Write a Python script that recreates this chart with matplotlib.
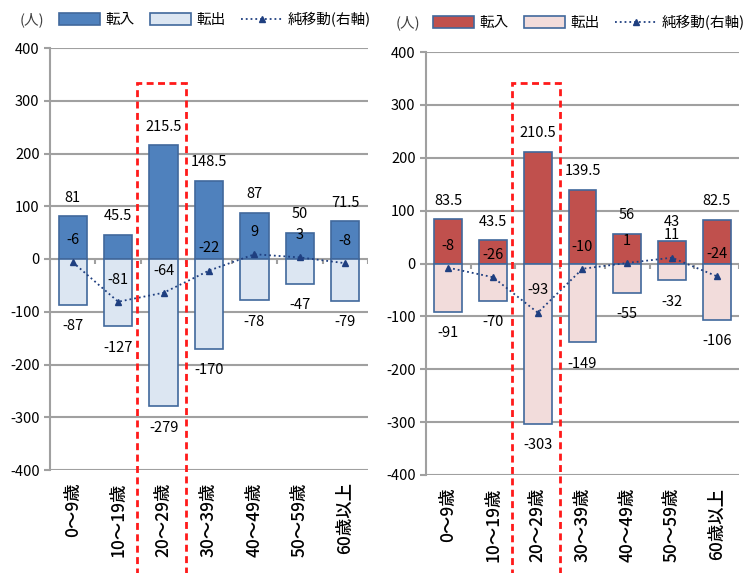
import matplotlib
matplotlib.use('Agg')
import matplotlib.pyplot as plt
from matplotlib.patches import Rectangle
import numpy as np

plt.rcParams['font.family'] = ['Noto Sans CJK JP', 'DejaVu Sans']
plt.rcParams['axes.unicode_minus'] = False

ages = ['0～9歳', '10～19歳', '20～29歳', '30～39歳', '40～49歳', '50～59歳', '60歳以上']

# left panel
in_left = [81, 45.5, 215.5, 148.5, 87, 50, 71.5]
out_left = [-87, -127, -279, -170, -78, -47, -79]
net_left = [-6, -81, -64, -22, 9, 3, -8]

# right panel
in_right = [83.5, 43.5, 210.5, 139.5, 56, 43, 82.5]
out_right = [-91, -70, -303, -149, -55, -32, -106]
net_right = [-8, -26, -93, -10, 1, 11, -24]

grey = '#a0a0a0'
edge = '#41689c'
line_col = '#1f3f80'


def fmt(v):
    return ('%g' % v)


def draw(ax, vin, vout, vnet, cin, cout, highlight_top):
    x = np.arange(len(ages))
    ax.set_xlim(-0.5, len(ages) - 0.5)
    ax.set_ylim(-400, 400)
    for yv in range(-400, 401, 100):
        ax.axhline(yv, color=grey, lw=1.5, zorder=1)
    ax.vlines(np.arange(0.5, len(ages)), -10, 0, color=grey, lw=1.5, zorder=1)

    ax.bar(x, vin, width=0.62, color=cin, edgecolor=edge, lw=1.2, zorder=2)
    ax.bar(x, vout, width=0.62, color=cout, edgecolor=edge, lw=1.2, zorder=2)

    for xi, v in zip(x, vin):
        ax.annotate(fmt(v), (xi, v), xytext=(0, 13.5), textcoords='offset points',
                    ha='center', va='center', fontsize=10.5, zorder=5)
    for xi, v in zip(x, vout):
        ax.annotate(fmt(v), (xi, v), xytext=(0, -15.5), textcoords='offset points',
                    ha='center', va='center', fontsize=10.5, zorder=5)

    ax.set_yticks(range(-400, 401, 100))
    ax.tick_params(axis='y', length=4, color=grey, width=1.5, labelsize=10.5)
    ax.set_xticks(x)
    ax.set_xticklabels(ages, rotation=90, fontsize=12.5, va='top', fontweight='medium')
    ax.tick_params(axis='x', length=0, pad=9)
    for s in ['top', 'right', 'bottom']:
        ax.spines[s].set_visible(False)
    ax.spines['left'].set_color(grey)
    ax.spines['left'].set_linewidth(1.5)

    # 右軸 (same scale, hidden)
    ax2 = ax.twinx()
    ax2.set_ylim(-400, 400)
    ax2.axis('off')
    ax2.plot(x, vnet, ls=':', lw=1.3, color=line_col, marker='^', ms=4.5, zorder=4)
    for xi, v in zip(x, vnet):
        ax2.annotate(fmt(v), (xi, v), xytext=(0, 16), textcoords='offset points',
                     ha='center', va='center', fontsize=10.5, zorder=5)

    rect = Rectangle((1.42, -700), 1.08, 700 + highlight_top, fill=False,
                     edgecolor='#ff1a1a', lw=2, linestyle=(0, (2.5, 1.6)),
                     clip_on=False, zorder=6)
    ax2.add_patch(rect)
    return ax2


fig = plt.figure(figsize=(7.54, 5.73), dpi=100)
ax_l = fig.add_axes([50 / 754, 1 - 470 / 573, 318 / 754, 422 / 573])
ax_r = fig.add_axes([426 / 754, 1 - 475 / 573, 313 / 754, 423 / 573])

draw(ax_l, in_left, out_left, net_left, '#4f81bd', '#dce6f2', 334)
draw(ax_r, in_right, out_right, net_right, '#c0504d', '#f2dcdb', 342)

labels = ['転入', '転出', '純移動(右軸)']
for ax, cin, cout, (lx, ly), (px, py) in [
        (ax_l, '#4f81bd', '#dce6f2', (20, 20), (59, 12)),
        (ax_r, '#c0504d', '#f2dcdb', (396, 23), (433, 15))]:
    h1 = Rectangle((0, 0), 1, 1, facecolor=cin, edgecolor=edge, lw=1.2)
    h2 = Rectangle((0, 0), 1, 1, facecolor=cout, edgecolor=edge, lw=1.2)
    h3, = ax.plot([], [], ls=':', lw=1.3, color=line_col, marker='^', ms=4.5)
    fig.legend([h1, h2, h3], labels, loc='upper left',
               bbox_to_anchor=(px / 754, 1 - py / 573), ncol=3, frameon=False,
               fontsize=10.5, handlelength=2.8, handleheight=0.8, handletextpad=0.35,
               columnspacing=1.1, borderpad=0, borderaxespad=0)
    fig.text(lx / 754, 1 - ly / 573, '(人)', fontsize=10.5, va='center', ha='left',
             color='#404040')

fig.savefig('out.png', dpi=100)
